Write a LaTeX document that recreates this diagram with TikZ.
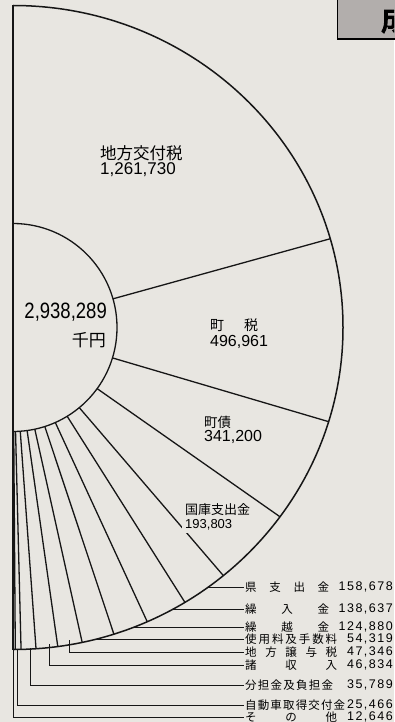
\documentclass[tikz,border=0pt]{standalone}
\usepackage{fontspec}
\usepackage{graphicx}
\setmainfont{Noto Sans CJK JP}
\newfontfamily\numf{Liberation Sans}
\newfontfamily\numsp[LetterSpace=12]{Liberation Sans}
\newfontfamily\heavy[AutoFakeBold=4]{Noto Sans CJK JP}
\usetikzlibrary{calc}
\definecolor{paper}{RGB}{232,230,225}
\definecolor{ink}{RGB}{22,22,22}
\definecolor{boxgray}{RGB}{178,174,172}
\begin{document}
\begin{tikzpicture}[x=1pt,y=-1pt,
  edge/.style={draw=ink,line width=1.3pt},
  lead/.style={draw=ink,line width=0.9pt},
  jl/.style={anchor=west,inner sep=0pt},
  rl/.style={anchor=west,inner sep=0pt,font=\fontsize{11.5}{12}\selectfont},
  rn/.style={anchor=east,inner sep=0pt,font=\numsp\fontsize{12.5}{12.5}\selectfont}]
\fill[paper] (0,0) rectangle (394,722);
\useasboundingbox (0,0) rectangle (394,722);
\coordinate (C) at (13,327.5);
% heading box fragment
\draw[line width=1.6pt,fill=boxgray] (337.5,-3) rectangle (397,39);
\begin{scope}
\clip (338.5,0) rectangle (394,38);
\node[font=\heavy\fontsize{30}{30}\selectfont\bfseries,inner sep=0pt] (hd) at (396,19) {成};
\end{scope}
% fan
\draw[edge,line width=1.5pt] (13,5.5) arc[start angle=-90,end angle=90,x radius=330,y radius=322];
\draw[edge,line width=1.5pt] (13,5.5) -- (13,649.5);
\draw[edge] (13,223.5) arc[start angle=-90,end angle=90,radius=104];
\foreach \a in {-16,17,36,50.4,58.6,66,72.2,77.9,82.2,86,88.6,89.6}
  \draw[edge] ($(C)+(\a:104)$) -- ($(C)+(\a:330 and 322)$);
% big labels
\node[jl,font=\fontsize{16.5}{17}\selectfont] (kofu) at (100,153) {地方交付税};
\node[jl,font=\numf\fontsize{17}{17}\selectfont] (kofuv) at (100,170) {1,261,730};
\node[jl,font=\fontsize{14}{14}\selectfont] (zei) at (210,325) {\makebox[48pt][s]{町\hfill 税}};
\node[jl,font=\numf\fontsize{16}{16}\selectfont] (zeiv) at (210,342) {496,961};
\node[jl,font=\fontsize{13.5}{14}\selectfont] (sai) at (204,422) {町債};
\node[jl,font=\numf\fontsize{16}{16}\selectfont] (saiv) at (204,437) {341,200};
\node[jl,font=\fontsize{13}{13}\selectfont] (koko) at (185,510) {国庫支出金};
\node[jl,font=\numf\fontsize{13}{13}\selectfont,fill=paper,inner sep=3pt] (kokov) at (182,525) {193,803};
\node[anchor=east,inner sep=0pt,font=\numf\fontsize{18.5}{18.5}\selectfont] (tot) at (107,312) {\scalebox{1}[1.2]{2,938,289}};
\node[anchor=east,inner sep=0pt,font=\fontsize{17}{17}\selectfont] (yen) at (106,340) {千円};
% right labels
\node[rl] (r1) at (245,587) {\makebox[84pt][s]{県\hfill 支\hfill 出\hfill 金}};
\node[rn] (n1) at (393,587) {158,678};
\node[rl] (r2) at (245,609) {\makebox[84pt][s]{繰\hfill 入\hfill 金}};
\node[rn] (n2) at (393,609) {138,637};
\node[rl] (r3) at (245,627) {\makebox[84pt][s]{繰\hfill 越\hfill 金}};
\node[rn] (n3) at (393,627) {124,880};
\node[rl] (r4) at (245,639) {\makebox[92pt][s]{使\hfill 用\hfill 料\hfill 及\hfill 手\hfill 数\hfill 料}};
\node[rn] (n4) at (393,639) {54,319};
\node[rl] (r5) at (245,652) {\makebox[92pt][s]{地\hfill 方\hfill 譲\hfill 与\hfill 税}};
\node[rn] (n5) at (393,652) {47,346};
\node[rl] (r6) at (245,665) {\makebox[92pt][s]{諸\hfill 収\hfill 入}};
\node[rn] (n6) at (393,665) {46,834};
\node[rl] (r7) at (245,685) {\makebox[88pt][s]{分\hfill 担\hfill 金\hfill 及\hfill 負\hfill 担\hfill 金}};
\node[rn] (n7) at (393,685) {35,789};
\node[rl] (r8) at (245,705) {\makebox[100pt][s]{自\hfill 動\hfill 車\hfill 取\hfill 得\hfill 交\hfill 付\hfill 金}};
\node[rn] (n8) at (393,705) {25,466};
\node[rl] (r9) at (245,717) {\makebox[92pt][s]{そ\hfill の\hfill 他}};
\node[rn] (n9) at (393,717) {12,646};
% leader start points
\coordinate (p1) at (208.4,587);
\coordinate (p2) at (173.2,609);
\coordinate (p3) at (134.2,627);
\coordinate (p4) at (96.6,639);
\coordinate (p5) at (69,640);
\coordinate (p6) at (49,644);
\coordinate (p7) at (30,648);
\coordinate (p8) at (17,649.5);
\coordinate (p9) at (13,649.5);
\draw[lead] (p1) -- ([xshift=-1pt]r1.west);
\draw[lead] (p2) -- ([xshift=-1pt]r2.west);
\draw[lead] (p3) -- ([xshift=-1pt]r3.west);
\draw[lead] (p4) -- ([xshift=-1pt]r4.west);
\draw[lead] (p5) |- ([xshift=-1pt]r5.west);
\draw[lead] (p6) |- ([xshift=-1pt]r6.west);
\draw[lead] (p7) |- ([xshift=-1pt]r7.west);
\draw[lead] (p8) |- ([xshift=-1pt]r8.west);
\draw[lead] (p9) |- ([xshift=-1pt]r9.west);
\end{tikzpicture}
\end{document}
